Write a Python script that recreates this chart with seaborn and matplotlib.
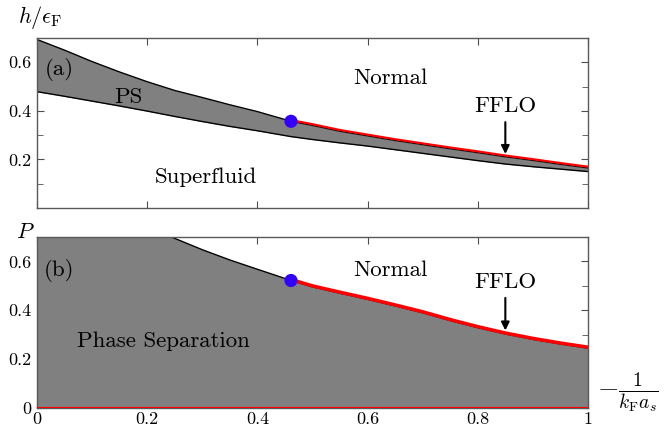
import matplotlib
matplotlib.use("Agg")
import matplotlib.pyplot as plt
import seaborn as sns
import numpy as np

# panel (a): h/eF phase boundaries vs -1/(kF a_s)
x_a = [0, 0.05, 0.1, 0.15, 0.2, 0.25, 0.3, 0.35, 0.4, 0.461, 0.5, 0.55, 0.6,
       0.65, 0.7, 0.75, 0.8, 0.85, 0.9, 0.95, 1.0]
h_upper = [0.694, 0.650, 0.603, 0.560, 0.520, 0.484, 0.455, 0.425, 0.397, 0.357,
           0.340, 0.316, 0.297, 0.278, 0.261, 0.244, 0.228, 0.211, 0.196, 0.180, 0.165]
h_lower = [0.479, 0.460, 0.440, 0.420, 0.399, 0.377, 0.356, 0.336, 0.318, 0.294,
           0.282, 0.268, 0.255, 0.240, 0.225, 0.210, 0.195, 0.181, 0.170, 0.160, 0.150]

# panel (b): polarization boundary
x_b = [0.244, 0.3, 0.35, 0.4, 0.461, 0.5, 0.55, 0.6, 0.65, 0.7, 0.75, 0.8,
       0.85, 0.9, 0.95, 1.0]
p_upper = [0.700, 0.648, 0.606, 0.568, 0.522, 0.496, 0.470, 0.445, 0.418, 0.390,
           0.358, 0.329, 0.303, 0.281, 0.262, 0.245]

tcp_x = 0.461
tcp_h = 0.357
tcp_p = 0.522

sns.set_style("ticks")
plt.rcParams["font.family"] = "serif"
plt.rcParams["font.serif"] = ["cmr10", "DejaVu Serif"]
plt.rcParams["mathtext.fontset"] = "cm"
plt.rcParams["axes.formatter.use_mathtext"] = True
plt.rcParams["text.color"] = "black"
plt.rcParams["xtick.labelcolor"] = "black"
plt.rcParams["ytick.labelcolor"] = "black"

fig = plt.figure(figsize=(6.65, 4.3), dpi=100)
ax1 = fig.add_axes([0.0556, 0.5163, 0.8286, 0.3953])
ax2 = fig.add_axes([0.0556, 0.0512, 0.8286, 0.3976])

gray = "#808080"
fs = 16.5

# ---- top panel
x_a = np.array(x_a)
h_upper = np.array(h_upper)
h_lower = np.array(h_lower)
ax1.fill_between(x_a, h_lower, h_upper, color=gray, lw=0)
sns.lineplot(x=x_a, y=h_upper, color="black", lw=1, ax=ax1)
sns.lineplot(x=x_a, y=h_lower, color="black", lw=1, ax=ax1)
m = x_a >= tcp_x
sns.lineplot(x=x_a[m], y=h_upper[m] + 0.005, color="red", lw=1.6, ax=ax1)
sns.scatterplot(x=[tcp_x], y=[tcp_h], color="#3300ff", s=90, edgecolor="none",
                zorder=5, ax=ax1)

ax1.text(0.04, 0.57, "(a)", fontsize=fs, ha="center", va="center")
ax1.text(0.166, 0.455, "PS", fontsize=fs, ha="center", va="center")
ax1.text(0.642, 0.535, "Normal", fontsize=fs, ha="center", va="center")
ax1.text(0.306, 0.128, "Superfluid", fontsize=fs, ha="center", va="center")
ax1.text(0.85, 0.42, "FFLO", fontsize=fs, ha="center", va="center")
ax1.annotate("", xy=(0.85, 0.211), xytext=(0.85, 0.365),
             arrowprops=dict(arrowstyle="-|>", color="black", lw=1.5,
                             mutation_scale=12))

# ---- bottom panel
x_b = np.array(x_b)
p_upper = np.array(p_upper)
ax2.fill_between(np.r_[0, x_b], 0, np.r_[0.7, p_upper], color=gray, lw=0)
sns.lineplot(x=x_b, y=p_upper, color="black", lw=1, ax=ax2)
mb = x_b >= tcp_x
sns.lineplot(x=x_b[mb], y=p_upper[mb] + 0.004, color="red", lw=2.5, ax=ax2)
ax2.plot([0, 1], [0, 0], color="red", lw=1.5, zorder=4)
sns.scatterplot(x=[tcp_x], y=[tcp_p], color="#3300ff", s=90, edgecolor="none",
                zorder=5, ax=ax2)

ax2.text(0.04, 0.562, "(b)", fontsize=fs, ha="center", va="center")
ax2.text(0.642, 0.562, "Normal", fontsize=fs, ha="center", va="center")
ax2.text(0.229, 0.273, "Phase Separation", fontsize=fs, ha="center", va="center")
ax2.text(0.85, 0.514, "FFLO", fontsize=fs, ha="center", va="center")
ax2.annotate("", xy=(0.85, 0.306), xytext=(0.85, 0.462),
             arrowprops=dict(arrowstyle="-|>", color="black", lw=1.5,
                             mutation_scale=12))

xt = [0, 0.2, 0.4, 0.6, 0.8, 1]
for ax in (ax1, ax2):
    ax.set_xlim(0, 1)
    ax.set_ylim(0, 0.7)
    ax.set_xticks(xt)
    ax.set_yticks([0.1, 0.3, 0.5], minor=True)
    ax.tick_params(which="both", direction="in", top=True, right=True,
                   labelsize=13, color="0.3", pad=4)
    ax.tick_params(axis="x", pad=3)
    ax.tick_params(which="major", length=5)
    ax.tick_params(which="minor", length=4)
    for s in ax.spines.values():
        s.set_color("0.35")
        s.set_linewidth(1)
    ax.set_xlabel("")
    ax.set_ylabel("")

ax1.set_yticks([0.2, 0.4, 0.6])
ax1.set_yticklabels(["0.2", "0.4", "0.6"])
ax1.set_xticklabels([])
ax2.set_yticks([0, 0.2, 0.4, 0.6])
ax2.set_yticklabels(["0", "0.2", "0.4", "0.6"])
ax2.set_xticklabels(["0", "0.2", "0.4", "0.6", "0.8", "1"])

fig.text(0.027, 0.96, r"$h/\epsilon_{\rm F}$", fontsize=16, ha="left", va="center")
fig.text(0.0376, 0.46, r"$P$", fontsize=16, ha="center", va="center")
fig.text(0.944, 0.088, r"$-\frac{1}{k_{\rm F}a_s}$", fontsize=20, ha="center",
         va="center")

fig.savefig("out.png", dpi=100)
